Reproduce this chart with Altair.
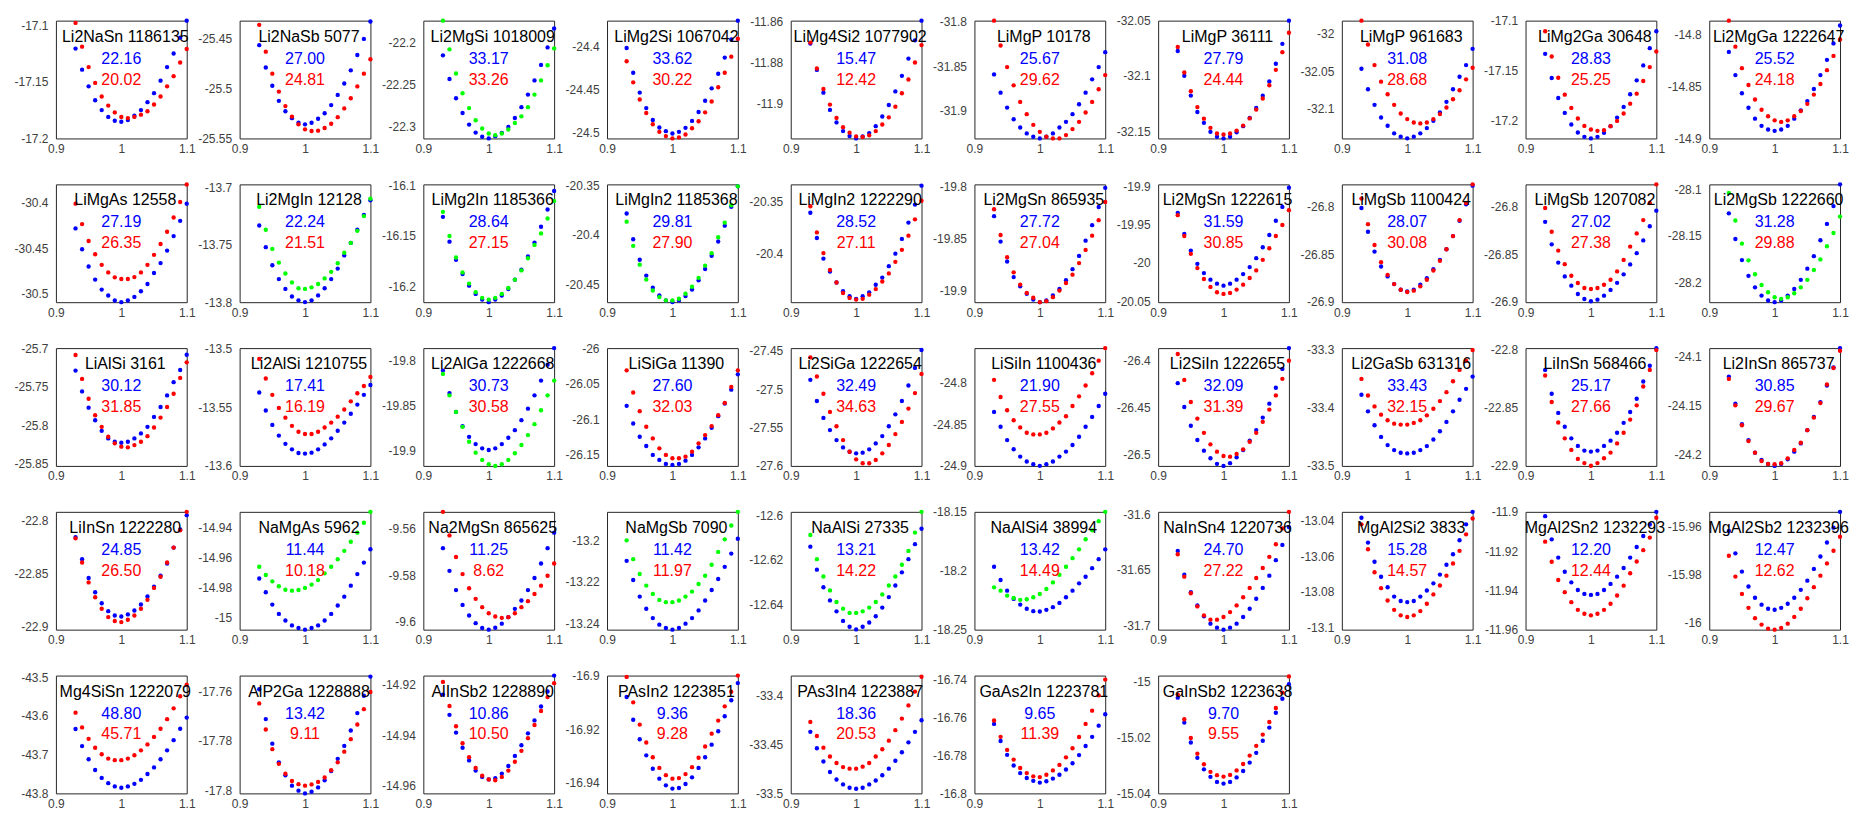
import altair as alt
import pandas as pd

X = [0.93, 0.94, 0.95, 0.96, 0.97, 0.98, 0.99, 1.00, 1.01, 1.02, 1.03, 1.04, 1.05, 1.06, 1.07, 1.08, 1.09, 1.10]

TITLES = ["Li2NaSn 1186135", "Li2NaSb 5077", "Li2MgSi 1018009", "LiMg2Si 1067042", "LiMg4Si2 1077902",
          "LiMgP 10178", "LiMgP 36111", "LiMgP 961683", "LiMg2Ga 30648", "Li2MgGa 1222647",
          "LiMgAs 12558", "Li2MgIn 12128", "LiMg2In 1185366", "LiMgIn2 1185368", "LiMgIn2 1222290",
          "Li2MgSn 865935", "Li2MgSn 1222615", "LiMgSb 1100424", "LiMgSb 1207082", "Li2MgSb 1222660",
          "LiAlSi 3161", "Li2AlSi 1210755", "Li2AlGa 1222668", "LiSiGa 11390", "Li2SiGa 1222654",
          "LiSiIn 1100436", "Li2SiIn 1222655", "Li2GaSb 631316", "LiInSn 568466", "Li2InSn 865737",
          "LiInSn 1222280", "NaMgAs 5962", "Na2MgSn 865625", "NaMgSb 7090", "NaAlSi 27335",
          "NaAlSi4 38994", "NaInSn4 1220736", "MgAl2Si2 3833", "MgAl2Sn2 1232293", "MgAl2Sb2 1232396",
          "Mg4SiSn 1222079", "AlP2Ga 1228888", "AlInSb2 1228890", "PAsIn2 1223851", "PAs3In4 1223887",
          "GaAs2In 1223781", "GaInSb2 1223638"]

BLUE_NUMS = ["22.16", "27.00", "33.17", "33.62", "15.47", "25.67", "27.79", "31.08", "28.83", "25.52",
             "27.19", "22.24", "28.64", "29.81", "28.52", "27.72", "31.59", "28.07", "27.02", "31.28",
             "30.12", "17.41", "30.73", "27.60", "32.49", "21.90", "32.09", "33.43", "25.17", "30.85",
             "24.85", "11.44", "11.25", "11.42", "13.21", "13.42", "24.70", "15.28", "12.20", "12.47",
             "48.80", "13.42", "10.86", "9.36", "18.36", "9.65", "9.70"]

RED_NUMS = ["20.02", "24.81", "33.26", "30.22", "12.42", "29.62", "24.44", "28.68", "25.25", "24.18",
            "26.35", "21.51", "27.15", "27.90", "27.11", "27.04", "30.85", "30.08", "27.38", "29.88",
            "31.85", "16.19", "30.58", "32.03", "34.63", "27.55", "31.39", "32.15", "27.66", "29.67",
            "26.50", "10.18", "8.62", "11.97", "14.22", "14.49", "27.22", "14.57", "12.44", "12.62",
            "45.71", "9.11", "10.50", "9.28", "20.53", "11.39", "9.55"]

# colour of the second point series in each panel: r = red, g = green
SECOND = ["r", "r", "g", "r", "r", "r", "r", "r", "r", "r",
          "r", "g", "g", "g", "r", "r", "r", "r", "r", "g",
          "r", "r", "g", "r", "r", "r", "r", "r", "r", "r",
          "r", "g", "r", "g", "g", "g", "r", "r", "r", "r",
          "r", "r", "r", "r", "r", "r", "r"]

Y_TICKS = [[-17.1, -17.15, -17.2], [-25.45, -25.5, -25.55], [-22.2, -22.25, -22.3], [-24.4, -24.45, -24.5],
           [-11.86, -11.88, -11.9], [-31.8, -31.85, -31.9], [-32.05, -32.1, -32.15], [-32, -32.05, -32.1],
           [-17.1, -17.15, -17.2], [-14.8, -14.85, -14.9],
           [-30.4, -30.45, -30.5], [-13.7, -13.75, -13.8], [-16.1, -16.15, -16.2], [-20.35, -20.4, -20.45],
           [-20.35, -20.4, -20.45], [-19.8, -19.85, -19.9], [-19.9, -19.95, -20, -20.05], [-26.8, -26.85, -26.9],
           [-26.8, -26.85, -26.9], [-28.1, -28.15, -28.2],
           [-25.7, -25.75, -25.8, -25.85], [-13.5, -13.55, -13.6], [-19.8, -19.85, -19.9], [-26, -26.05, -26.1, -26.15],
           [-27.45, -27.5, -27.55, -27.6], [-24.8, -24.85, -24.9], [-26.4, -26.45, -26.5], [-33.3, -33.4, -33.5],
           [-22.8, -22.85, -22.9], [-24.1, -24.15, -24.2],
           [-22.8, -22.85, -22.9], [-14.94, -14.96, -14.98, -15], [-9.56, -9.58, -9.6], [-13.2, -13.22, -13.24],
           [-12.6, -12.62, -12.64], [-18.15, -18.2, -18.25], [-31.6, -31.65, -31.7], [-13.04, -13.06, -13.08, -13.1],
           [-11.9, -11.92, -11.94, -11.96], [-15.96, -15.98, -16],
           [-43.5, -43.6, -43.7, -43.8], [-17.76, -17.78, -17.8], [-14.92, -14.94, -14.96], [-16.9, -16.92, -16.94],
           [-33.4, -33.45, -33.5], [-16.74, -16.76, -16.78, -16.8], [-15, -15.02, -15.04]]

Y_LO = [-17.2, -25.55, -22.3145, -24.5065, -11.9168, -31.932, -32.1566, -32.14, -17.2182, -14.9,
        -30.509, -13.8, -16.2158, -20.4677, -20.4463, -19.911, -20.0512, -26.901, -26.901, -28.2211,
        -25.8527, -13.6, -19.9165, -26.1654, -27.6, -24.9, -26.5123, -33.5, -22.9, -24.2112,
        -22.9026, -15.0079, -9.6036, -13.2432, -12.6513, -18.25, -31.7041, -13.1011, -11.96, -16.0028,
        -43.8, -17.8011, -14.963, -16.944, -33.5, -16.8, -15.04]

Y_HI = [-17.096, -25.432, -22.1745, -24.3707, -11.8594, -31.7985, -32.05, -31.9822, -17.1, -14.7867,
        -30.380, -13.697, -16.099, -20.349, -20.3338, -19.798, -19.8974, -26.7761, -26.7761, -28.0947,
        -25.6996, -13.4997, -19.7869, -26.0, -27.4466, -24.7582, -26.3866, -33.2983, -22.7991, -24.0912,
        -22.7919, -14.9294, -9.5527, -13.1862, -12.5985, -18.15, -31.5976, -13.0352, -11.9, -15.9537,
        -43.4958, -17.7537, -14.9165, -16.9, -33.380, -16.7379, -14.9979]

b01 = [-17.1207, -17.1393, -17.154, -17.1663, -17.175, -17.181, -17.1844, -17.1853, -17.1838, -17.180, -17.175, -17.168, -17.160, -17.149, -17.137, -17.125, -17.111, -17.096]
o01 = [-17.098, -17.119, -17.137, -17.151, -17.163, -17.171, -17.177, -17.181, -17.182, -17.181, -17.179, -17.176, -17.170, -17.163, -17.154, -17.145, -17.133, -17.121]
b02 = [-25.4566, -25.4789, -25.4972, -25.5123, -25.5228, -25.5297, -25.5343, -25.5359, -25.5343, -25.5303, -25.5248, -25.5166, -25.5064, -25.4950, -25.4818, -25.4664, -25.4503, -25.4329]
o02 = [-25.4362, -25.4631, -25.4851, -25.5031, -25.5176, -25.5281, -25.5359, -25.5409, -25.5425, -25.5422, -25.5395, -25.5353, -25.5287, -25.5199, -25.5097, -25.4979, -25.4851, -25.4707]
b03 = [-22.2157, -22.2439, -22.2667, -22.2843, -22.2980, -22.3075, -22.3125, -22.3145, -22.3118, -22.3078, -22.3008, -22.2902, -22.2773, -22.2624, -22.2455, -22.2271, -22.2063, -22.1839]
o03 = [-22.1745, -22.2086, -22.2373, -22.2608, -22.2784, -22.2929, -22.3027, -22.3086, -22.3106, -22.3086, -22.3039, -22.2961, -22.2882, -22.2773, -22.2624, -22.2455, -22.2275, -22.2075]
b04 = [-24.4023, -24.4308, -24.4536, -24.4715, -24.4852, -24.4939, -24.4981, -24.5008, -24.4989, -24.4943, -24.4863, -24.4760, -24.4631, -24.4487, -24.4319, -24.4133, -24.3924, -24.3707]
o04 = [-24.4175, -24.4418, -24.4616, -24.4772, -24.4901, -24.4989, -24.5038, -24.5065, -24.5053, -24.5019, -24.4947, -24.4867, -24.4764, -24.4639, -24.4475, -24.4308, -24.4122, -24.3916]
b05 = [-11.8706, -11.8834, -11.8945, -11.9029, -11.9090, -11.9132, -11.9156, -11.9168, -11.9158, -11.9142, -11.9108, -11.9061, -11.9005, -11.8939, -11.8863, -11.8779, -11.8690, -11.8594]
o05 = [-11.8701, -11.8827, -11.8927, -11.9003, -11.9068, -11.9113, -11.9140, -11.9158, -11.9161, -11.9153, -11.9132, -11.9100, -11.9065, -11.9013, -11.8948, -11.8881, -11.8798, -11.8713]
b06 = [-31.8594, -31.8801, -31.8970, -31.9102, -31.9196, -31.9263, -31.9301, -31.9320, -31.9301, -31.9263, -31.9196, -31.9132, -31.9045, -31.8932, -31.8801, -31.8650, -31.8511, -31.8342]
o06 = [-31.7985, -31.8267, -31.8511, -31.8718, -31.8906, -31.9045, -31.9166, -31.9245, -31.9301, -31.9320, -31.9320, -31.9282, -31.9214, -31.9132, -31.9026, -31.8906, -31.8763, -31.8602]
b07 = [-32.0775, -32.0999, -32.1178, -32.1327, -32.1425, -32.1506, -32.1551, -32.1566, -32.1551, -32.1510, -32.1455, -32.1380, -32.1290, -32.1180, -32.1050, -32.0890, -32.0710, -32.0500]
o07 = [-32.0739, -32.0969, -32.1139, -32.1282, -32.1387, -32.1470, -32.1521, -32.1530, -32.1521, -32.1495, -32.1450, -32.1385, -32.1305, -32.1205, -32.1085, -32.0945, -32.0785, -32.0610]
b08 = [-32.0466, -32.0741, -32.0950, -32.1119, -32.1230, -32.1332, -32.1376, -32.1399, -32.1376, -32.1332, -32.1261, -32.1163, -32.1052, -32.0910, -32.0741, -32.0573, -32.0417, -32.0200]
o08 = [-31.9822, -32.0142, -32.0417, -32.0639, -32.0808, -32.0950, -32.1066, -32.1141, -32.1186, -32.1199, -32.1186, -32.1141, -32.1074, -32.0986, -32.0875, -32.0755, -32.0608, -32.0453]
b09 = [-17.1333, -17.1576, -17.1776, -17.1926, -17.2042, -17.2122, -17.2166, -17.2182, -17.2166, -17.2126, -17.2059, -17.1973, -17.1866, -17.1739, -17.1599, -17.1449, -17.1276, -17.1107]
o09 = [-17.1107, -17.1360, -17.1573, -17.1743, -17.1876, -17.1982, -17.2056, -17.2092, -17.2106, -17.2099, -17.2059, -17.2006, -17.1932, -17.1833, -17.1733, -17.1606, -17.1466, -17.1310]
b10 = [-14.8168, -14.8391, -14.8565, -14.8705, -14.8810, -14.8879, -14.8914, -14.8927, -14.8914, -14.8879, -14.8810, -14.8730, -14.8641, -14.8524, -14.8391, -14.8244, -14.8086, -14.7914]
o10 = [-14.7867, -14.8117, -14.8324, -14.8486, -14.8625, -14.8724, -14.8787, -14.8826, -14.8841, -14.8826, -14.8787, -14.8737, -14.8667, -14.8578, -14.8476, -14.8343, -14.8206, -14.8048]
b11 = [-30.4282, -30.4510, -30.4699, -30.4843, -30.4952, -30.5017, -30.5072, -30.5090, -30.5072, -30.5032, -30.4970, -30.4891, -30.4771, -30.4662, -30.4525, -30.4366, -30.4199, -30.4011]
o11 = [-30.4011, -30.4235, -30.4420, -30.4565, -30.4681, -30.4764, -30.4818, -30.4836, -30.4836, -30.4815, -30.4764, -30.4681, -30.4572, -30.4453, -30.4319, -30.4163, -30.3993, -30.3801]
b12 = [-13.7330, -13.7519, -13.7677, -13.7798, -13.7884, -13.7950, -13.7984, -13.7999, -13.7984, -13.7941, -13.7878, -13.7798, -13.7706, -13.7591, -13.7482, -13.7367, -13.7238, -13.7109]
o12 = [-13.7166, -13.7367, -13.7534, -13.7654, -13.7749, -13.7827, -13.7878, -13.7884, -13.7870, -13.7841, -13.7792, -13.7735, -13.7660, -13.7568, -13.7482, -13.7376, -13.7247, -13.7095]
b13 = [-16.1312, -16.1558, -16.1738, -16.1879, -16.1994, -16.2076, -16.2132, -16.2158, -16.2132, -16.2092, -16.2027, -16.1935, -16.1836, -16.1705, -16.1567, -16.1410, -16.1239, -16.1056]
o13 = [-16.1262, -16.1502, -16.1715, -16.1863, -16.1974, -16.2059, -16.2115, -16.2132, -16.2115, -16.2076, -16.2017, -16.1935, -16.1843, -16.1722, -16.1590, -16.1476, -16.1328, -16.1154]
b14 = [-20.3783, -20.4043, -20.4249, -20.4409, -20.4532, -20.4609, -20.4659, -20.4675, -20.4659, -20.4616, -20.4549, -20.4456, -20.4343, -20.4209, -20.4066, -20.3906, -20.3716, -20.3510]
o14 = [-20.3866, -20.4109, -20.4299, -20.4449, -20.4559, -20.4626, -20.4659, -20.4659, -20.4642, -20.4592, -20.4522, -20.4432, -20.4309, -20.4183, -20.4023, -20.3876, -20.3700, -20.3510]
b15 = [-20.3609, -20.3850, -20.4047, -20.4170, -20.4275, -20.4359, -20.4406, -20.4431, -20.4406, -20.4369, -20.4297, -20.4228, -20.4119, -20.4000, -20.3859, -20.3703, -20.3531, -20.3350]
o15 = [-20.3547, -20.3797, -20.3994, -20.4156, -20.4275, -20.4375, -20.4422, -20.4438, -20.4431, -20.4391, -20.4338, -20.4266, -20.4188, -20.4078, -20.3963, -20.3828, -20.3672, -20.3494]
b16 = [-19.8285, -19.8529, -19.8720, -19.8869, -19.8957, -19.9030, -19.9084, -19.9110, -19.9094, -19.9046, -19.8983, -19.8900, -19.8793, -19.8666, -19.8520, -19.8371, -19.8197, -19.8013]
o16 = [-19.8219, -19.8466, -19.8678, -19.8824, -19.8941, -19.9021, -19.9068, -19.9110, -19.9100, -19.9062, -19.8999, -19.8926, -19.8846, -19.8735, -19.8609, -19.8472, -19.8323, -19.8149]
b17 = [-19.9346, -19.9622, -19.9838, -20.0011, -20.0132, -20.0218, -20.0270, -20.0296, -20.0270, -20.0218, -20.0145, -20.0054, -19.9937, -19.9795, -19.9635, -19.9449, -19.9268, -19.9017]
o17 = [-19.9376, -19.9648, -19.9881, -20.0067, -20.0210, -20.0313, -20.0382, -20.0404, -20.0391, -20.0348, -20.0283, -20.0197, -20.0097, -19.9959, -19.9808, -19.9648, -19.9505, -19.9311]
b18 = [-26.8011, -26.8263, -26.8474, -26.8632, -26.8737, -26.8818, -26.8878, -26.8895, -26.8878, -26.8825, -26.8755, -26.8660, -26.8562, -26.8449, -26.8309, -26.8147, -26.7972, -26.7775]
o18 = [-26.7912, -26.8183, -26.8404, -26.8586, -26.8720, -26.8818, -26.8878, -26.8902, -26.8888, -26.8842, -26.8772, -26.8674, -26.8572, -26.8449, -26.8309, -26.8140, -26.7958, -26.7761]
b19 = [-26.8158, -26.8397, -26.8590, -26.8737, -26.8835, -26.8923, -26.8976, -26.9000, -26.8983, -26.8941, -26.8880, -26.8805, -26.8715, -26.8610, -26.8490, -26.8355, -26.8205, -26.8040]
o19 = [-26.8011, -26.8263, -26.8463, -26.8607, -26.8730, -26.8807, -26.8860, -26.8870, -26.8860, -26.8825, -26.8772, -26.8684, -26.8562, -26.8421, -26.8281, -26.8140, -26.7958, -26.7761]
b20 = [-28.1258, -28.1533, -28.1759, -28.1928, -28.2052, -28.2140, -28.2193, -28.2211, -28.2193, -28.2140, -28.2070, -28.1971, -28.1851, -28.1717, -28.1547, -28.1371, -28.1180, -28.0947]
o20 = [-28.1039, -28.1335, -28.1582, -28.1762, -28.1911, -28.2027, -28.2105, -28.2158, -28.2175, -28.2158, -28.2115, -28.2052, -28.1971, -28.1865, -28.1752, -28.1611, -28.1469, -28.1293]
b21 = [-25.7288, -25.7559, -25.7770, -25.7933, -25.8071, -25.8170, -25.8213, -25.8226, -25.8213, -25.8170, -25.8105, -25.8019, -25.7890, -25.7761, -25.7611, -25.7439, -25.7280, -25.7082]
o21 = [-25.7086, -25.7396, -25.7654, -25.7869, -25.8019, -25.8148, -25.8234, -25.8277, -25.8286, -25.8256, -25.8213, -25.8140, -25.8028, -25.7899, -25.7761, -25.7589, -25.7383, -25.7181]
b22 = [-13.5375, -13.5528, -13.5651, -13.5742, -13.5812, -13.5859, -13.5890, -13.5895, -13.5887, -13.5859, -13.5817, -13.5765, -13.5701, -13.5631, -13.5556, -13.5478, -13.5395, -13.5311]
o22 = [-13.5089, -13.5256, -13.5395, -13.5506, -13.5589, -13.5659, -13.5709, -13.5728, -13.5728, -13.5709, -13.5673, -13.5631, -13.5581, -13.5520, -13.5450, -13.5381, -13.5320, -13.5242]
b23 = [-19.8116, -19.8364, -19.8571, -19.8728, -19.8845, -19.8925, -19.8972, -19.8990, -19.8972, -19.8925, -19.8855, -19.8772, -19.8662, -19.8535, -19.8389, -19.8226, -19.8051, -19.7869]
o23 = [-19.8153, -19.8389, -19.8571, -19.8735, -19.8899, -19.9019, -19.9099, -19.9147, -19.9165, -19.9147, -19.9099, -19.9026, -19.8935, -19.8826, -19.8706, -19.8553, -19.8389, -19.8226]
b24 = [-26.0811, -26.1058, -26.1244, -26.1375, -26.1500, -26.1570, -26.1626, -26.1640, -26.1626, -26.1580, -26.1500, -26.1393, -26.1268, -26.1118, -26.0955, -26.0778, -26.0583, -26.0368]
o24 = [-26.0312, -26.0624, -26.0885, -26.1104, -26.1268, -26.1407, -26.1500, -26.1547, -26.1547, -26.1524, -26.1454, -26.1337, -26.1221, -26.1095, -26.0941, -26.0769, -26.0545, -26.0312]
b25 = [-27.4879, -27.5155, -27.5375, -27.5534, -27.5664, -27.5759, -27.5815, -27.5836, -27.5827, -27.5784, -27.5707, -27.5612, -27.5483, -27.5328, -27.5155, -27.4953, -27.4724, -27.4491]
o25 = [-27.4586, -27.4836, -27.5060, -27.5297, -27.5483, -27.5664, -27.5815, -27.5914, -27.5965, -27.5965, -27.5922, -27.5836, -27.5728, -27.5586, -27.5427, -27.5254, -27.5052, -27.4802]
b26 = [-24.8350, -24.8529, -24.8689, -24.8800, -24.8888, -24.8947, -24.8979, -24.8999, -24.8979, -24.8947, -24.8888, -24.8828, -24.8748, -24.8649, -24.8529, -24.8410, -24.8279, -24.8131]
o26 = [-24.7964, -24.8171, -24.8330, -24.8450, -24.8537, -24.8601, -24.8621, -24.8621, -24.8601, -24.8549, -24.8478, -24.8402, -24.8279, -24.8163, -24.8032, -24.7885, -24.7733, -24.7582]
b27 = [-26.4240, -26.4494, -26.4695, -26.4847, -26.4960, -26.5041, -26.5101, -26.5123, -26.5094, -26.5031, -26.4953, -26.4854, -26.4741, -26.4607, -26.4459, -26.4289, -26.4088, -26.3866]
o27 = [-26.3929, -26.4205, -26.4441, -26.4618, -26.4770, -26.4893, -26.4971, -26.5017, -26.5024, -26.4995, -26.4946, -26.4865, -26.4770, -26.4653, -26.4522, -26.4371, -26.4194, -26.4000]
b28 = [-33.3782, -33.4066, -33.4304, -33.4503, -33.4644, -33.4729, -33.4775, -33.4786, -33.4775, -33.4729, -33.4661, -33.4548, -33.4406, -33.4247, -33.4066, -33.3868, -33.3680, -33.3471]
o28 = [-33.3510, -33.3794, -33.3981, -33.4123, -33.4219, -33.4276, -33.4293, -33.4293, -33.4264, -33.4219, -33.4134, -33.4021, -33.3890, -33.3737, -33.3550, -33.3357, -33.3198, -33.3017]
b29 = [-22.8178, -22.8382, -22.8546, -22.8665, -22.8764, -22.8829, -22.8869, -22.8877, -22.8869, -22.8829, -22.8784, -22.8716, -22.8631, -22.8538, -22.8425, -22.8277, -22.8142, -22.7992]
o29 = [-22.8226, -22.8453, -22.8628, -22.8764, -22.8863, -22.8940, -22.8976, -22.8999, -22.8976, -22.8934, -22.8886, -22.8807, -22.8716, -22.8603, -22.8481, -22.8320, -22.8178, -22.8008]
b30 = [-24.1202, -24.1479, -24.1687, -24.1849, -24.1977, -24.2051, -24.2092, -24.2112, -24.2092, -24.2045, -24.1967, -24.1883, -24.1748, -24.1613, -24.1462, -24.1293, -24.1108, -24.0912]
o30 = [-24.1226, -24.1495, -24.1698, -24.1859, -24.1977, -24.2062, -24.2092, -24.2095, -24.2085, -24.2035, -24.1950, -24.1876, -24.1748, -24.1620, -24.1472, -24.1283, -24.1115, -24.0939]
b31 = [-22.8156, -22.8364, -22.8541, -22.8675, -22.8778, -22.8852, -22.8893, -22.8902, -22.8883, -22.8846, -22.8790, -22.8715, -22.8622, -22.8519, -22.8404, -22.8255, -22.8084, -22.7950]
o31 = [-22.8168, -22.8395, -22.8582, -22.8722, -22.8830, -22.8908, -22.8945, -22.8955, -22.8933, -22.8893, -22.8830, -22.8746, -22.8634, -22.8529, -22.8395, -22.8255, -22.8093, -22.7919]
b32 = [-14.9738, -14.9830, -14.9912, -14.9974, -15.0018, -15.0051, -15.0068, -15.0079, -15.0068, -15.0051, -15.0018, -14.9974, -14.9918, -14.9859, -14.9786, -14.9709, -14.9632, -14.9543]
o32 = [-14.9660, -14.9715, -14.9757, -14.9790, -14.9813, -14.9819, -14.9815, -14.9801, -14.9779, -14.9749, -14.9704, -14.9660, -14.9610, -14.9554, -14.9493, -14.9433, -14.9367, -14.9294]
b33 = [-9.5684, -9.5782, -9.5865, -9.5929, -9.5975, -9.6008, -9.6029, -9.6036, -9.6028, -9.6010, -9.5982, -9.5946, -9.5910, -9.5865, -9.5813, -9.5750, -9.5684, -9.5617]
o33 = [-9.5527, -9.5629, -9.5722, -9.5796, -9.5857, -9.5903, -9.5939, -9.5965, -9.5979, -9.5985, -9.5982, -9.5965, -9.5939, -9.5913, -9.5882, -9.5846, -9.5803, -9.5750]
b34 = [-13.2099, -13.2192, -13.2272, -13.2331, -13.2376, -13.2408, -13.2424, -13.2432, -13.2424, -13.2403, -13.2376, -13.2339, -13.2291, -13.2240, -13.2187, -13.2128, -13.2064, -13.1992]
o34 = [-13.2000, -13.2091, -13.2163, -13.2219, -13.2259, -13.2288, -13.2299, -13.2299, -13.2291, -13.2272, -13.2248, -13.2211, -13.2171, -13.2118, -13.2056, -13.1995, -13.1928, -13.1862]
b35 = [-12.6141, -12.6244, -12.6323, -12.6382, -12.6431, -12.6474, -12.6500, -12.6512, -12.6500, -12.6481, -12.6453, -12.6414, -12.6367, -12.6315, -12.6256, -12.6197, -12.6130, -12.6061]
o35 = [-12.6089, -12.6197, -12.6275, -12.6337, -12.6389, -12.6419, -12.6438, -12.6438, -12.6431, -12.6414, -12.6389, -12.6355, -12.6315, -12.6275, -12.6222, -12.6160, -12.6078, -12.5985]
b36 = [-18.1966, -18.2079, -18.2169, -18.2239, -18.2287, -18.2323, -18.2343, -18.2346, -18.2332, -18.2309, -18.2273, -18.2225, -18.2169, -18.2107, -18.2051, -18.1978, -18.1902, -18.1818]
o36 = [-18.2141, -18.2169, -18.2211, -18.2231, -18.2247, -18.2242, -18.2225, -18.2197, -18.2155, -18.2099, -18.2034, -18.1966, -18.1893, -18.1818, -18.1733, -18.1657, -18.1579, -18.1500]
b37 = [-31.6329, -31.6544, -31.6703, -31.6822, -31.6921, -31.6987, -31.7023, -31.7041, -31.7023, -31.6987, -31.6927, -31.6852, -31.6762, -31.6664, -31.6553, -31.6413, -31.6275, -31.6114]
o37 = [-31.6359, -31.6562, -31.6712, -31.6831, -31.6912, -31.6951, -31.6951, -31.6927, -31.6882, -31.6822, -31.6748, -31.6664, -31.6574, -31.6484, -31.6383, -31.6269, -31.6126, -31.5976]
b38 = [-13.0385, -13.0524, -13.0631, -13.0715, -13.0774, -13.0826, -13.0851, -13.0857, -13.0851, -13.0826, -13.0792, -13.0752, -13.0703, -13.0648, -13.0589, -13.0511, -13.0422, -13.0352]
o38 = [-13.0422, -13.0561, -13.0690, -13.0779, -13.0848, -13.0900, -13.0931, -13.0940, -13.0931, -13.0907, -13.0866, -13.0814, -13.0764, -13.0709, -13.0641, -13.0570, -13.0478, -13.0389]
b39 = [-11.9022, -11.9140, -11.9233, -11.9305, -11.9359, -11.9398, -11.9418, -11.9423, -11.9418, -11.9398, -11.9367, -11.9330, -11.9286, -11.9233, -11.9179, -11.9123, -11.9064, -11.9000]
o39 = [-11.9152, -11.9254, -11.9347, -11.9409, -11.9460, -11.9499, -11.9519, -11.9527, -11.9519, -11.9499, -11.9468, -11.9426, -11.9376, -11.9313, -11.9253, -11.9195, -11.9131, -11.9030]
b40 = [-15.9617, -15.9710, -15.9786, -15.9848, -15.9895, -15.9924, -15.9941, -15.9945, -15.9937, -15.9920, -15.9895, -15.9862, -15.9824, -15.9775, -15.9723, -15.9665, -15.9603, -15.9537]
o40 = [-15.9720, -15.9807, -15.9879, -15.9937, -15.9980, -16.0007, -16.0024, -16.0028, -16.0021, -16.0003, -15.9975, -15.9941, -15.9897, -15.9851, -15.9803, -15.9752, -15.9699, -15.9641]
b41 = [-43.6338, -43.6779, -43.7118, -43.7397, -43.7600, -43.7736, -43.7821, -43.7854, -43.7821, -43.7753, -43.7651, -43.7499, -43.7329, -43.7118, -43.6889, -43.6626, -43.6330, -43.6042]
o41 = [-43.5915, -43.6296, -43.6592, -43.6821, -43.6990, -43.7101, -43.7143, -43.7143, -43.7101, -43.7016, -43.6889, -43.6736, -43.6542, -43.6330, -43.6084, -43.5805, -43.5491, -43.5195]
b42 = [-17.7592, -17.7712, -17.7811, -17.7886, -17.7938, -17.7980, -17.8000, -17.8011, -17.8004, -17.7987, -17.7958, -17.7921, -17.7872, -17.7820, -17.7758, -17.7688, -17.7618, -17.7541]
o42 = [-17.7649, -17.7754, -17.7833, -17.7892, -17.7932, -17.7961, -17.7974, -17.7980, -17.7975, -17.7965, -17.7947, -17.7918, -17.7886, -17.7843, -17.7793, -17.7734, -17.7672, -17.7603]
b43 = [-14.9240, -14.9320, -14.9390, -14.9450, -14.9500, -14.9540, -14.9565, -14.9575, -14.9570, -14.9552, -14.9522, -14.9482, -14.9440, -14.9393, -14.9342, -14.9287, -14.9228, -14.9165]
o43 = [-14.9190, -14.9285, -14.9365, -14.9432, -14.9487, -14.9530, -14.9560, -14.9575, -14.9578, -14.9565, -14.9540, -14.9505, -14.9462, -14.9412, -14.9360, -14.9305, -14.9250, -14.9195]
b44 = [-16.9080, -16.9165, -16.9238, -16.9298, -16.9348, -16.9385, -16.9410, -16.9422, -16.9420, -16.9405, -16.9380, -16.9345, -16.9305, -16.9258, -16.9208, -16.9152, -16.9092, -16.9028]
o44 = [-16.9005, -16.9100, -16.9183, -16.9250, -16.9305, -16.9345, -16.9372, -16.9385, -16.9383, -16.9368, -16.9342, -16.9307, -16.9265, -16.9217, -16.9168, -16.9115, -16.9060, -16.9000]
b45 = [-33.4373, -33.4540, -33.4675, -33.4782, -33.4859, -33.4909, -33.4943, -33.4953, -33.4943, -33.4909, -33.4869, -33.4815, -33.4748, -33.4668, -33.4581, -33.4480, -33.4373, -33.4255]
o45 = [-33.4272, -33.4416, -33.4534, -33.4624, -33.4691, -33.4732, -33.4748, -33.4748, -33.4728, -33.4691, -33.4624, -33.4550, -33.4463, -33.4356, -33.4238, -33.4104, -33.3963, -33.3812]
b46 = [-16.7634, -16.7724, -16.7797, -16.7853, -16.7893, -16.7919, -16.7934, -16.7943, -16.7936, -16.7922, -16.7902, -16.7874, -16.7841, -16.7798, -16.7750, -16.7702, -16.7643, -16.7583]
o46 = [-16.7616, -16.7702, -16.7771, -16.7822, -16.7866, -16.7893, -16.7910, -16.7914, -16.7902, -16.7879, -16.7850, -16.7810, -16.7762, -16.7703, -16.7634, -16.7564, -16.7483, -16.7400]
b47 = [-15.0058, -15.0147, -15.0218, -15.0273, -15.0314, -15.0341, -15.0359, -15.0365, -15.0359, -15.0343, -15.0320, -15.0290, -15.0255, -15.0212, -15.0165, -15.0112, -15.0062, -15.0010]
o47 = [-15.0047, -15.0135, -15.0202, -15.0258, -15.0296, -15.0323, -15.0335, -15.0340, -15.0334, -15.0318, -15.0295, -15.0265, -15.0230, -15.0190, -15.0145, -15.0095, -15.0040, -14.9982]

BLUE = [b01, b02, b03, b04, b05, b06, b07, b08, b09, b10, b11, b12, b13, b14, b15, b16, b17, b18, b19, b20,
        b21, b22, b23, b24, b25, b26, b27, b28, b29, b30, b31, b32, b33, b34, b35, b36, b37, b38, b39, b40,
        b41, b42, b43, b44, b45, b46, b47]
OTHER = [o01, o02, o03, o04, o05, o06, o07, o08, o09, o10, o11, o12, o13, o14, o15, o16, o17, o18, o19, o20,
         o21, o22, o23, o24, o25, o26, o27, o28, o29, o30, o31, o32, o33, o34, o35, o36, o37, o38, o39, o40,
         o41, o42, o43, o44, o45, o46, o47]

W, H = 131, 118
FONT = "Liberation Sans"
COLORS = alt.Scale(domain=["b", "r", "g"], range=["#0000ff", "#ff0000", "#00ff00"])


def panel(k):
    df = pd.DataFrame({
        "x": X + X,
        "y": BLUE[k] + OTHER[k],
        "s": ["b"] * 18 + [SECOND[k]] * 18,
        "o": list(range(36)),
    })
    lo = min(Y_LO[k], min(df["y"]))
    hi = max(Y_HI[k], max(df["y"]))
    pts = alt.Chart(df).mark_circle(size=19, opacity=1).encode(
        x=alt.X("x:Q", scale=alt.Scale(domain=[0.9, 1.1], nice=False, zero=False),
                axis=alt.Axis(values=[0.9, 1, 1.1], labelExpr="'' + datum.value", title=None,
                              labelFlush=False, labelPadding=5)),
        y=alt.Y("y:Q", scale=alt.Scale(domain=[lo, hi], nice=False, zero=False),
                axis=alt.Axis(values=Y_TICKS[k], labelExpr="'' + datum.value", title=None,
                              labelPadding=8)),
        color=alt.Color("s:N", scale=COLORS, legend=None),
        order=alt.Order("o:Q"),
    )
    t_title = alt.Chart(pd.DataFrame({"t": [TITLES[k]]})).mark_text(
        font=FONT, fontSize=16, color="#000000", align="center", baseline="alphabetic"
    ).encode(text="t:N", x=alt.value(W / 2 + 4), y=alt.value(21))
    t_blue = alt.Chart(pd.DataFrame({"t": [BLUE_NUMS[k]]})).mark_text(
        font=FONT, fontSize=16, color="#0000ff", align="center", baseline="alphabetic"
    ).encode(text="t:N", x=alt.value(W / 2), y=alt.value(43))
    t_red = alt.Chart(pd.DataFrame({"t": [RED_NUMS[k]]})).mark_text(
        font=FONT, fontSize=16, color="#ff0000", align="center", baseline="alphabetic"
    ).encode(text="t:N", x=alt.value(W / 2), y=alt.value(64))
    return alt.layer(pts, t_title, t_blue, t_red).properties(width=W, height=H)


chart = alt.concat(
    *[panel(k) for k in range(47)],
    columns=10,
    spacing={"row": 46, "column": 53},
    bounds="flush",
).resolve_scale(
    x="independent", y="independent"
).configure_view(
    stroke="#262626", strokeWidth=1
).configure_axis(
    domain=False, ticks=False, tickSize=0, grid=False, labelFont=FONT, labelFontSize=12,
    labelColor="#404040", labelOverlap=False
).properties(
    background="white", padding={"left": 5, "top": 5, "right": 5, "bottom": 5}
)

chart.save("out.html", embed_options={"renderer": "svg", "actions": False})
